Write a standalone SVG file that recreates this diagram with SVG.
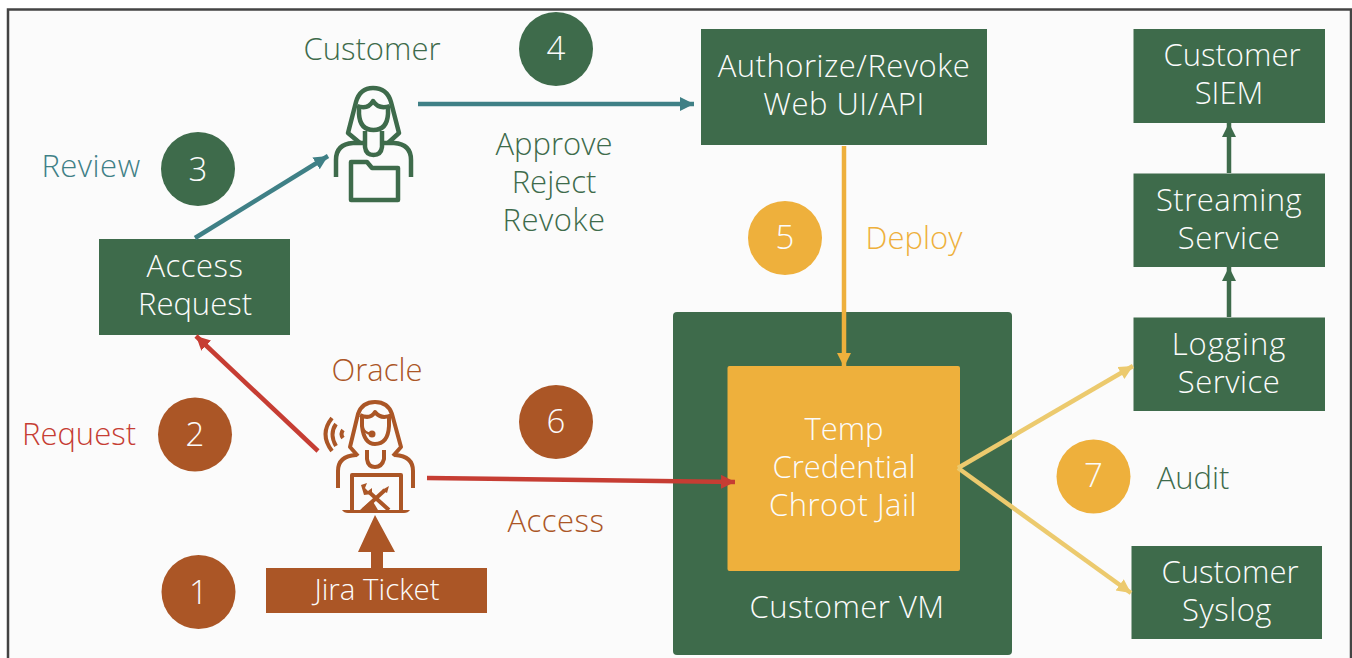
<svg xmlns="http://www.w3.org/2000/svg" width="1352" height="658" viewBox="0 0 1352 658">
<style>
text{font-family:"Open Sans","Noto Sans","Liberation Sans",sans-serif;font-weight:300;font-size:31px;text-anchor:middle}
.w{fill:#fbfbfb}.g{fill:#3e6b4b}.o{fill:#ab5626}.r{fill:#c63d33}.t{fill:#3f8086}.y{fill:#eeb03c}
.box{fill:#3e6b4b}.num{font-size:33px;fill:#fbfbfb}
.s32{letter-spacing:.5px}.s33{letter-spacing:1px}
.ln{fill:none;stroke-width:4.5}
.ic{fill:none;stroke-width:4.500;stroke-linejoin:round}
</style>
<defs>
<marker id="mR" markerUnits="userSpaceOnUse" markerWidth="16" markerHeight="16" refX="14" refY="7" orient="auto"><path d="M0,0L14,7L0,14Z" fill="#c63d33"/></marker>
<marker id="mT" markerUnits="userSpaceOnUse" markerWidth="16" markerHeight="16" refX="14" refY="7" orient="auto"><path d="M0,0L14,7L0,14Z" fill="#3f8086"/></marker>
<marker id="mY" markerUnits="userSpaceOnUse" markerWidth="16" markerHeight="16" refX="14" refY="7" orient="auto"><path d="M0,0L14,7L0,14Z" fill="#eeb03c"/></marker>
<marker id="mL" markerUnits="userSpaceOnUse" markerWidth="16" markerHeight="16" refX="14" refY="7" orient="auto"><path d="M0,0L14,7L0,14Z" fill="#ecca6e"/></marker>
<marker id="mG" markerUnits="userSpaceOnUse" markerWidth="16" markerHeight="16" refX="14" refY="7" orient="auto"><path d="M0,0L14,7L0,14Z" fill="#3e6b4b"/></marker>
</defs>
<rect width="1352" height="658" fill="#fff"/>
<rect x="8" y="9.500" width="1343" height="660" fill="#fbfbfb" stroke="#444" stroke-width="2.500"/>

<g id="vm"><rect x="673" y="312" width="339" height="343" rx="4" class="box"/><text x="847" y="618" class="w s32">Customer VM</text></g>
<g id="temp"><rect x="727.500" y="366" width="232.500" height="205" rx="2" fill="#eeb03c"/><text x="844" y="440" class="w">Temp</text><text x="844" y="478" class="w">Credential</text><text x="843" y="516" class="w s32">Chroot Jail</text></g>
<g id="authorize"><rect x="701" y="29" width="286" height="116" class="box"/><text x="844" y="77" class="w s32">Authorize/Revoke</text><text x="844" y="115" class="w s32">Web UI/API</text></g>
<g id="siem"><rect x="1133.500" y="29" width="191.500" height="94" class="box"/><text x="1232" y="66" class="w">Customer</text><text x="1229" y="104" class="w">SIEM</text></g>
<g id="streaming"><rect x="1133.500" y="173.500" width="191.500" height="93.500" class="box"/><text x="1229" y="211" class="w s32">Streaming</text><text x="1229" y="249" class="w s32">Service</text></g>
<g id="logging"><rect x="1133.500" y="317.500" width="191.500" height="93.500" class="box"/><text x="1229" y="355" class="w s33">Logging</text><text x="1229" y="393" class="w s32">Service</text></g>
<g id="syslog"><rect x="1131.500" y="546" width="190.500" height="93" class="box"/><text x="1230" y="583" class="w">Customer</text><text x="1227" y="621" class="w s32">Syslog</text></g>
<g id="access-request"><rect x="99" y="239" width="191" height="96" class="box"/><text x="195" y="277" class="w s32">Access</text><text x="195" y="315" class="w">Request</text></g>
<g id="jira"><rect x="266" y="568" width="221" height="45" fill="#ab5626"/><text x="377" y="600" class="w" style="font-size:29.500px">Jira Ticket</text></g>

<g id="customer">
<text x="372" y="60" class="g">Customer</text>
<g class="ic" stroke="#3e6b4b">
<path d="M360,143L348,133L356,102Q360,88 373,88Q387,88 391,102L399,133L388,143"/>
<path d="M357,106Q368,110 373,101Q379,110 390,106"/>
<path d="M359,106V114Q360,130 373.500,130Q387,130 388,114V106"/>
<path d="M365,131V147Q366,155 373.500,155Q381,155 382,147V131"/>
<path d="M336,177V160Q336,144 353,143H364M411,177V160Q411,144 394,143H383"/>
<path d="M351,162H367L372,168H398V200H351Z"/>
</g></g>

<g id="oracle">
<text x="377" y="381" class="o">Oracle</text>
<g class="ic" stroke="#ab5626" style="stroke-width:4">
<path d="M358,456L350,447L358,414Q362,402 375,402Q388,402 392,414L401,447L393,456"/>
<path d="M360,415Q370,420 375,412Q381,420 392,415"/>
<path d="M362,415V426Q364,444 375,444Q388,444 389,426V415"/>
<path d="M367,450V459Q368,467 375,467Q382,467 384,459V450"/>
<path d="M338,488V471Q338,456 356,455M413,488V471Q413,456 395,455"/>
<path d="M352,510V475H401V510"/>
<path d="M362,426Q364,433 371,434" style="stroke-width:2.500"/>
<path d="M343,430Q340,434 343,438M336,424Q329,434 336,446M332,418Q319,434 332,451"/>
</g>
<circle cx="372" cy="434" r="3.500" fill="#ab5626"/>
<path d="M342,510H410Q408,513 404,513H348Q344,513 342,510Z" fill="#ab5626"/>
<path d="M363,510L385,490M369,492L389,510" stroke="#ab5626" stroke-width="4" fill="none"/>
<path d="M361,485L367,483L365,488L368,491L372,488L372,494L364,495Z" fill="#ab5626"/>
<path d="M382,490L389,486L387,493Z" fill="#ab5626"/>
<path d="M360,510L372,500L378,510Z" fill="#ab5626"/>
</g>

<g id="connectors">
<path d="M318,451L196,336" class="ln" stroke="#c63d33" marker-end="url(#mR)"/>
<path d="M427,478L735,482" class="ln" stroke="#c63d33" marker-end="url(#mR)"/>
<path d="M195,238L328,156" class="ln" stroke="#3f8086" marker-end="url(#mT)"/>
<path d="M418,104L694,104" class="ln" stroke="#3f8086" marker-end="url(#mT)"/>
<path d="M844,146V367" class="ln" stroke="#eeb03c" marker-end="url(#mY)"/>
<path d="M958,468L1133,366" class="ln" stroke="#ecca6e" marker-end="url(#mL)"/>
<path d="M958,468L1131,593" class="ln" stroke="#ecca6e" marker-end="url(#mL)"/>
<path d="M1229,173V123" class="ln" stroke="#3e6b4b" marker-end="url(#mG)"/>
<path d="M1229,317V267" class="ln" stroke="#3e6b4b" marker-end="url(#mG)"/>
<path d="M371,568V552H358L375,515L395,552H383V568Z" fill="#ab5626"/>
</g>

<g id="labels">
<text x="91" y="177" class="t s32">Review</text>
<text x="79" y="445" class="r">Request</text>
<text x="554" y="155" class="g">Approve</text><text x="554" y="193" class="g">Reject</text><text x="554" y="231" class="g s32">Revoke</text>
<text x="914" y="249" class="y">Deploy</text>
<text x="556" y="532" class="o s32">Access</text>
<text x="1193" y="489" class="g">Audit</text>
</g>

<g id="step1"><circle cx="198.500" cy="592" r="37" fill="#ab5626"/><text x="198.500" y="604" class="num">1</text></g>
<g id="step2"><circle cx="195" cy="434.500" r="37" fill="#ab5626"/><text x="195" y="446" class="num">2</text></g>
<g id="step3"><circle cx="198" cy="169" r="37" fill="#3e6b4b"/><text x="198" y="181" class="num">3</text></g>
<g id="step4"><circle cx="556" cy="49" r="37" fill="#3e6b4b"/><text x="556" y="60" class="num">4</text></g>
<g id="step5"><circle cx="785" cy="238" r="37" fill="#eeb03c"/><text x="785" y="249" class="num">5</text></g>
<g id="step6"><circle cx="556" cy="422" r="37" fill="#ab5626"/><text x="556" y="433" class="num">6</text></g>
<g id="step7"><circle cx="1093.500" cy="476.500" r="37" fill="#eeb03c"/><text x="1093.500" y="487" class="num">7</text></g>
</svg>
